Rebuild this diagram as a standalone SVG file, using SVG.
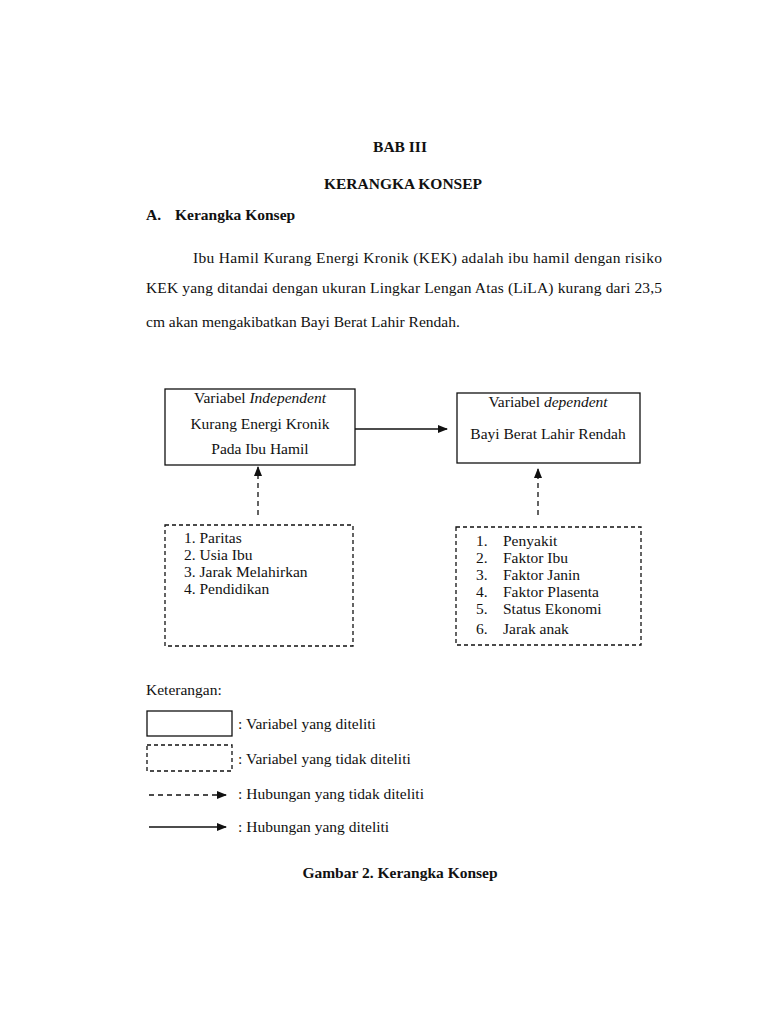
<svg xmlns="http://www.w3.org/2000/svg" width="768" height="1024" viewBox="0 0 768 1024">
<style>
text{font-family:"Liberation Serif","Times New Roman",serif;font-size:15.5px;fill:#111}
.b{font-weight:bold}
.c{text-anchor:middle}
.solid{fill:none;stroke:#111;stroke-width:1.3}
.dash{fill:none;stroke:#111;stroke-width:1.3;stroke-dasharray:4,3}
.line{stroke:#111;stroke-width:1.3;fill:none}
</style>
<defs>
<marker id="ah" markerWidth="10" markerHeight="8" refX="9" refY="4" orient="auto" markerUnits="userSpaceOnUse">
<path d="M0,0 L10,4 L0,8 Z" fill="#111"/>
</marker>
</defs>
<rect width="768" height="1024" fill="#fff"/>
<text class="b c" x="400" y="152">BAB III</text>
<text class="b c" x="403" y="189">KERANGKA KONSEP</text>
<text class="b" x="146" y="220">A.</text>
<text class="b" x="175" y="220">Kerangka Konsep</text>
<text x="193" y="263" textLength="469" lengthAdjust="spacing">Ibu Hamil Kurang Energi Kronik (KEK) adalah ibu hamil dengan risiko</text>
<text x="146" y="293" textLength="516" lengthAdjust="spacing">KEK yang ditandai dengan ukuran Lingkar Lengan Atas (LiLA) kurang dari 23,5</text>
<text x="146" y="327">cm akan mengakibatkan Bayi Berat Lahir Rendah.</text>

<g id="independent">
<rect class="solid" x="165" y="389" width="190" height="76"/>
<text class="c" x="260" y="403">Variabel <tspan font-style="italic">Independent</tspan></text>
<text class="c" x="260" y="429">Kurang Energi Kronik</text>
<text class="c" x="260" y="454">Pada Ibu Hamil</text>
</g>
<g id="dependent">
<rect class="solid" x="457" y="393" width="183" height="70"/>
<text class="c" x="548" y="407">Variabel <tspan font-style="italic">dependent</tspan></text>
<text class="c" x="548" y="439">Bayi Berat Lahir Rendah</text>
</g>
<g id="factors-left">
<rect class="dash" x="165" y="525" width="188" height="121"/>
<text x="184" y="543">1.  Paritas</text>
<text x="184" y="560">2.  Usia Ibu</text>
<text x="184" y="577">3.  Jarak Melahirkan</text>
<text x="184" y="594">4.  Pendidikan</text>
</g>
<g id="factors-right">
<rect class="dash" x="456" y="527" width="185" height="118"/>
<text x="476" y="546">1.</text><text x="503" y="546">Penyakit</text>
<text x="476" y="563">2.</text><text x="503" y="563">Faktor Ibu</text>
<text x="476" y="580">3.</text><text x="503" y="580">Faktor Janin</text>
<text x="476" y="597">4.</text><text x="503" y="597">Faktor Plasenta</text>
<text x="476" y="614">5.</text><text x="503" y="614">Status Ekonomi</text>
<text x="476" y="634">6.</text><text x="503" y="634">Jarak anak</text>
</g>
<g id="connectors">
<line class="line" x1="355" y1="429" x2="447" y2="429" marker-end="url(#ah)"/>
<line class="line" x1="258" y1="515" x2="258" y2="467" stroke-dasharray="5,4" marker-end="url(#ah)"/>
<line class="line" x1="538" y1="515" x2="538" y2="469" stroke-dasharray="5,4" marker-end="url(#ah)"/>
</g>
<g id="legend">
<text x="146" y="695">Keterangan:</text>
<rect class="solid" x="147" y="711" width="85" height="25"/>
<text x="238" y="729">: Variabel yang diteliti</text>
<rect class="dash" x="147" y="745" width="85" height="26" stroke-width="1"/>
<text x="238" y="764">: Variabel yang tidak diteliti</text>
<line class="line" x1="149" y1="795" x2="226" y2="795" stroke-dasharray="5,4" marker-end="url(#ah)"/>
<text x="238" y="799">: Hubungan yang tidak diteliti</text>
<line class="line" x1="149" y1="827" x2="226" y2="827" marker-end="url(#ah)"/>
<text x="238" y="832">: Hubungan yang diteliti</text>
</g>
<text class="b c" x="400" y="878">Gambar 2. Kerangka Konsep</text>
</svg>
